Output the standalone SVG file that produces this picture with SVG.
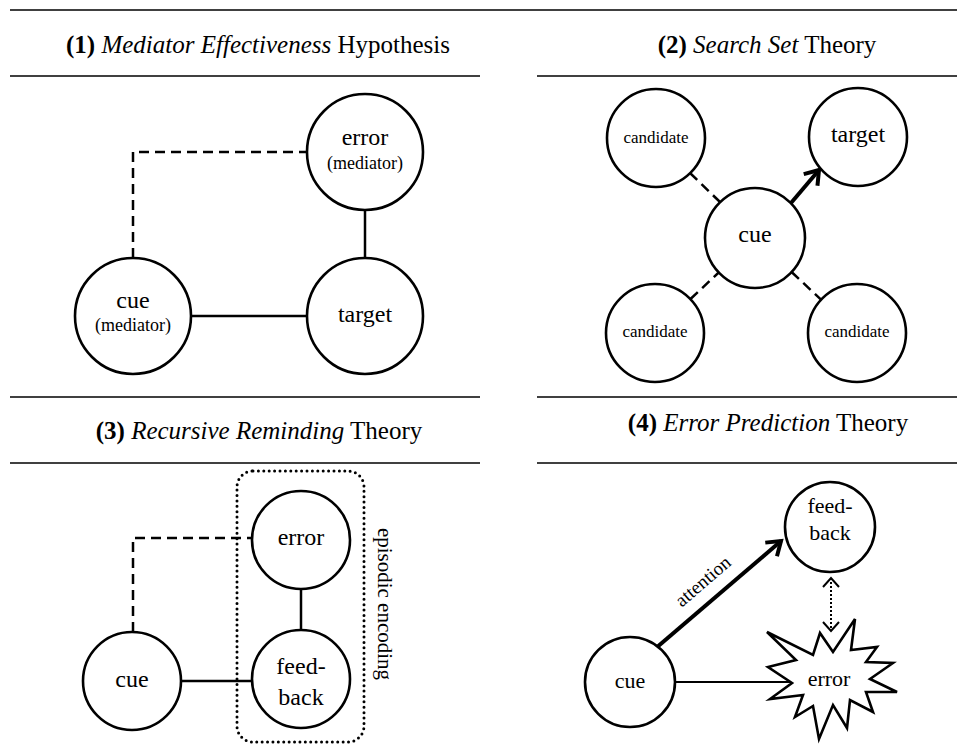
<svg xmlns="http://www.w3.org/2000/svg" width="957" height="746" viewBox="0 0 957 746" font-family="Liberation Serif, DejaVu Serif, serif">
<style>
.title{font-family:"Liberation Serif",serif;font-size:25px;text-anchor:middle;fill:#000}
.b{font-weight:bold}
.i{font-style:italic}
.n{font-family:"Liberation Serif",serif;font-size:24px;text-anchor:middle;fill:#000}
.n4{font-family:"Liberation Serif",serif;font-size:22px;text-anchor:middle;fill:#000}
.s{font-family:"Liberation Serif",serif;font-size:18px;text-anchor:middle;fill:#000}
.c{font-family:"Liberation Serif",serif;font-size:17px;text-anchor:middle;fill:#000}
.lbl{font-family:"Liberation Serif",serif;text-anchor:middle;fill:#000}
.node{fill:#fff;stroke:#000;stroke-width:2.6}
.rule{stroke:#000;stroke-width:1.6}
.solid{stroke:#000;stroke-width:2.5;fill:none}
.dash{stroke:#000;stroke-width:2.5;fill:none;stroke-dasharray:10 6}
.thick{stroke:#000;stroke-width:4;fill:none}
.dot{stroke:#000;stroke-width:3;fill:none;stroke-dasharray:0 5.4;stroke-linecap:round}
.dot2{stroke:#000;stroke-width:2;fill:none;stroke-dasharray:2 2}
</style>
<defs>
<marker id="chev" markerUnits="userSpaceOnUse" orient="auto" refX="0" refY="0" markerWidth="30" markerHeight="30" overflow="visible">
<path d="M-13,-9 L0,0 L-13,9" fill="none" stroke="#000" stroke-width="4" stroke-linejoin="miter"/>
</marker>
<marker id="chevThin" markerUnits="userSpaceOnUse" orient="auto-start-reverse" refX="0" refY="0" markerWidth="20" markerHeight="20" overflow="visible">
<path d="M-9,-8 L0,0 L-9,8" fill="none" stroke="#000" stroke-width="2"/>
</marker>
</defs>

<g id="rules">
<line class="rule" x1="10" y1="10" x2="957" y2="10"/>
<line class="rule" x1="10" y1="76" x2="480" y2="76"/>
<line class="rule" x1="537" y1="76" x2="957" y2="76"/>
<line class="rule" x1="10" y1="397" x2="480" y2="397"/>
<line class="rule" x1="537" y1="397" x2="957" y2="397"/>
<line class="rule" x1="10" y1="463" x2="480" y2="463"/>
<line class="rule" x1="537" y1="463" x2="957" y2="463"/>
</g>

<g id="titles">
<text class="title" x="258" y="53"><tspan class="b">(1)</tspan> <tspan class="i">Mediator Effectiveness</tspan> Hypothesis</text>
<text class="title" x="767" y="53"><tspan class="b">(2)</tspan> <tspan class="i">Search Set</tspan> Theory</text>
<text class="title" x="259" y="439"><tspan class="b">(3)</tspan> <tspan class="i">Recursive Reminding</tspan> Theory</text>
<text class="title" x="768" y="431"><tspan class="b">(4)</tspan> <tspan class="i">Error Prediction</tspan> Theory</text>
</g>

<g id="connectors">
<path class="dash" d="M133,258 V152 H307"/>
<line class="solid" x1="365" y1="210" x2="365" y2="258"/>
<line class="solid" x1="191" y1="316" x2="307" y2="316"/>
<line class="dash" x1="690" y1="173" x2="720" y2="202"/>
<line class="dash" x1="690.5" y1="299" x2="718.7" y2="272.5"/>
<line class="dash" x1="791.6" y1="272" x2="821" y2="299.6"/>
<line class="thick" x1="791" y1="203" x2="819" y2="170" marker-end="url(#chev)"/>
<path class="dash" d="M133,632 V538 H252"/>
<line class="solid" x1="301" y1="589" x2="301" y2="630"/>
<line class="solid" x1="181" y1="681" x2="252" y2="681"/>
<rect class="dot" x="237" y="471" width="127" height="271" rx="16" ry="16"/>
<line class="solid" x1="675" y1="682" x2="793" y2="682" style="stroke-width:2"/>
<line class="thick" x1="656" y1="648" x2="781" y2="541" marker-end="url(#chev)"/>
<line class="dot2" x1="831" y1="578" x2="831" y2="631" marker-start="url(#chevThin)" marker-end="url(#chevThin)"/>
</g>

<g id="label-episodic">
<text class="lbl" transform="translate(378,604) rotate(90)" font-size="21">episodic encoding</text>
</g>
<g id="label-attention">
<text class="lbl" transform="translate(707,586) rotate(-40.6)" font-size="19">attention</text>
</g>

<g id="p1-error">
<circle class="node" cx="365" cy="152" r="58"/>
<text class="n" x="365" y="145">error</text>
<text class="s" x="365" y="169">(mediator)</text>
</g>
<g id="p1-target">
<circle class="node" cx="365" cy="316" r="58"/>
<text class="n" x="365" y="322">target</text>
</g>
<g id="p1-cue">
<circle class="node" cx="133" cy="316" r="58"/>
<text class="n" x="133" y="308">cue</text>
<text class="s" x="133" y="331">(mediator)</text>
</g>

<g id="p2-candidate-tl">
<circle class="node" cx="656" cy="138" r="49"/>
<text class="c" x="656" y="143">candidate</text>
</g>
<g id="p2-target">
<circle class="node" cx="858" cy="137" r="49"/>
<text class="n" x="858" y="142">target</text>
</g>
<g id="p2-cue">
<circle class="node" cx="755" cy="238" r="50"/>
<text class="n" x="755" y="242">cue</text>
</g>
<g id="p2-candidate-bl">
<circle class="node" cx="655" cy="333" r="49"/>
<text class="c" x="655" y="337">candidate</text>
</g>
<g id="p2-candidate-br">
<circle class="node" cx="857" cy="333" r="49"/>
<text class="c" x="857" y="337">candidate</text>
</g>

<g id="p3-error">
<circle class="node" cx="301" cy="540" r="49"/>
<text class="n" x="301" y="545">error</text>
</g>
<g id="p3-feedback">
<circle class="node" cx="301" cy="679" r="49"/>
<text class="n" x="301" y="674">feed-</text>
<text class="n" x="301" y="705">back</text>
</g>
<g id="p3-cue">
<circle class="node" cx="132" cy="681" r="49"/>
<text class="n" x="132" y="687">cue</text>
</g>

<g id="p4-feedback">
<circle class="node" cx="830" cy="527" r="45"/>
<text class="n4" x="830" y="513">feed-</text>
<text class="n4" x="830" y="540">back</text>
</g>
<g id="p4-cue">
<circle class="node" cx="630" cy="682" r="45"/>
<text class="n4" x="630" y="688">cue</text>
</g>
<g id="p4-error">
<polygon class="node" points="767,632 796,660 768,667 792,683 770,699 803,695 795,717 813,706 819,739 833,705 847,728 850,700 873,712 866,692 897,692 870,679 893,663 866,662 877,647 851,650 855,619 833,652 820,633 813,655"/>
<text class="n4" x="829" y="686">error</text>
</g>
</svg>
